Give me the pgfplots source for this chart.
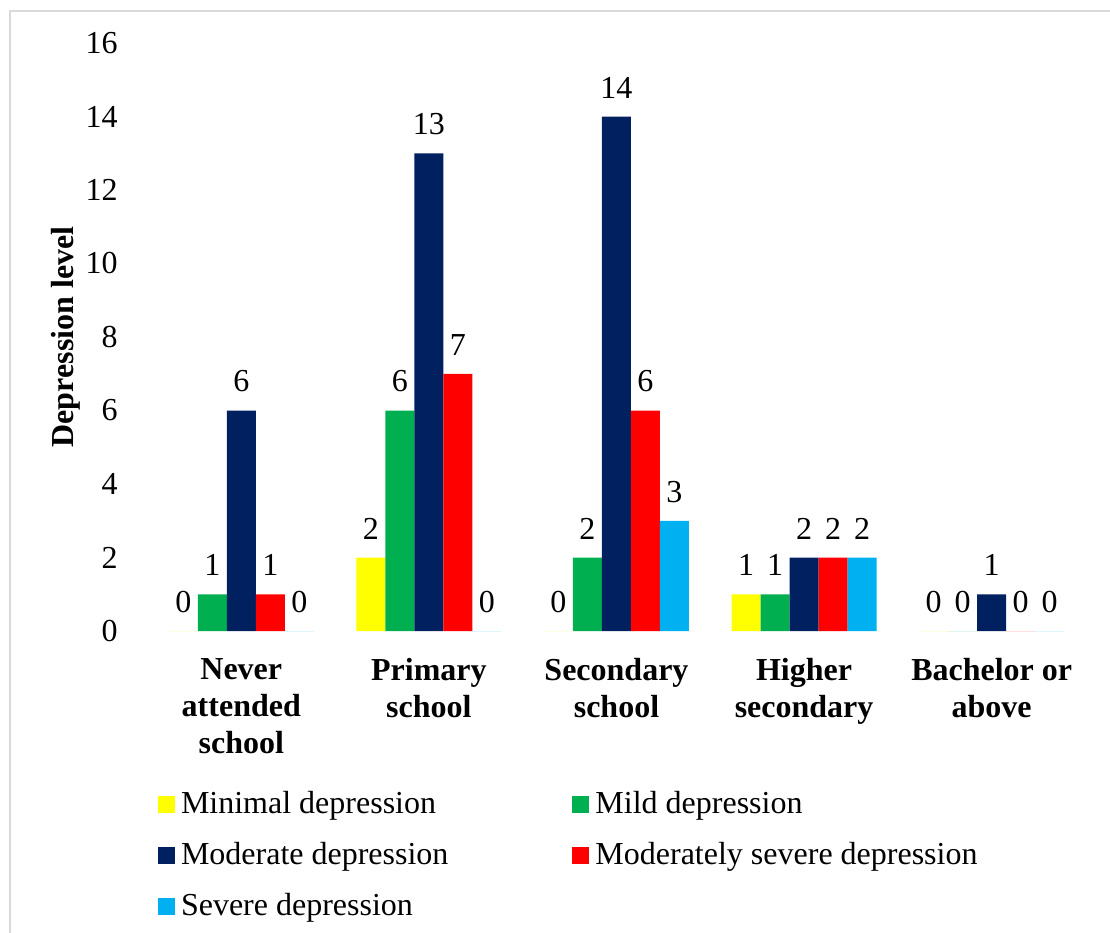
\documentclass[border=0pt]{standalone}
\usepackage{fontspec}
\setmainfont{Liberation Serif}
\usepackage{pgfplots}
\pgfplotsset{compat=1.18}
\definecolor{cMin}{HTML}{FFFF00}
\definecolor{cMild}{HTML}{00B050}
\definecolor{cMod}{HTML}{002060}
\definecolor{cModSev}{HTML}{FF0000}
\definecolor{cSev}{HTML}{00B0F0}
\definecolor{frameGray}{HTML}{D9D9D9}
\begin{document}
\fontsize{16}{18.5}\selectfont
\begin{tikzpicture}
\useasboundingbox (-73.75pt,-151pt) rectangle (481.25pt,315.5pt);
\begin{axis}[
  at={(0pt,0pt)}, anchor=south west,
  scale only axis,
  width=469pt, height=294pt,
  ybar=0pt, bar width=14.5pt,
  xmin=-0.5, xmax=4.5,
  ymin=0, ymax=16,
  ytick={0,2,...,16},
  xtick=data,
  xticklabels={{Never\\attended\\school},{Primary\\school},{Secondary\\school},{Higher\\secondary},{Bachelor or\\above}},
  xticklabel style={align=center, font=\bfseries, inner sep=0pt, yshift=-13.5pt},
  yticklabel style={inner sep=0pt, xshift=-14.75pt},
  /pgf/number format/assume math mode=true,
  axis line style={draw=none},
  major tick length=0pt,
  axis x line*=bottom, axis y line*=left,
  clip=false,
  ylabel={Depression level},
  ylabel style={at={(axis description cs:-0.0874,0.5)}, anchor=center, font=\bfseries},
  nodes near coords,
  every node near coord/.append style={inner sep=0pt, yshift=9pt, text=black},
  legend image code/.code={\fill[#1] (0pt,-3.5pt) rectangle (8.5pt,5pt);},
  legend columns=2,
  legend cell align=left,
  legend style={at={(axis description cs:0.0112,-0.2721)}, anchor=north west,
    draw=none, fill=none, inner sep=0pt, outer sep=0pt,
    nodes={inner sep=0pt, text height=11pt, text depth=3.5pt},
    row sep=11.25pt,
    /tikz/column 1/.style={column sep=3pt},
    /tikz/column 2/.style={column sep=62pt},
    /tikz/column 3/.style={column sep=3pt}},
]
\addplot[fill=cMin, draw=none] coordinates {(0,0) (1,2) (2,0) (3,1) (4,0)};
\addplot[fill=cMild, draw=none] coordinates {(0,1) (1,6) (2,2) (3,1) (4,0)};
\addplot[fill=cMod, draw=none] coordinates {(0,6) (1,13) (2,14) (3,2) (4,1)};
\addplot[fill=cModSev, draw=none] coordinates {(0,1) (1,7) (2,6) (3,2) (4,0)};
\addplot[fill=cSev, draw=none] coordinates {(0,0) (1,0) (2,3) (3,2) (4,0)};
\legend{Minimal depression, Mild depression, Moderate depression, Moderately severe depression, Severe depression}
\end{axis}
\draw[frameGray, line width=1pt] (-68.75pt,-160pt) -- (-68.75pt,310pt) -- (490pt,310pt);
\end{tikzpicture}
\end{document}
